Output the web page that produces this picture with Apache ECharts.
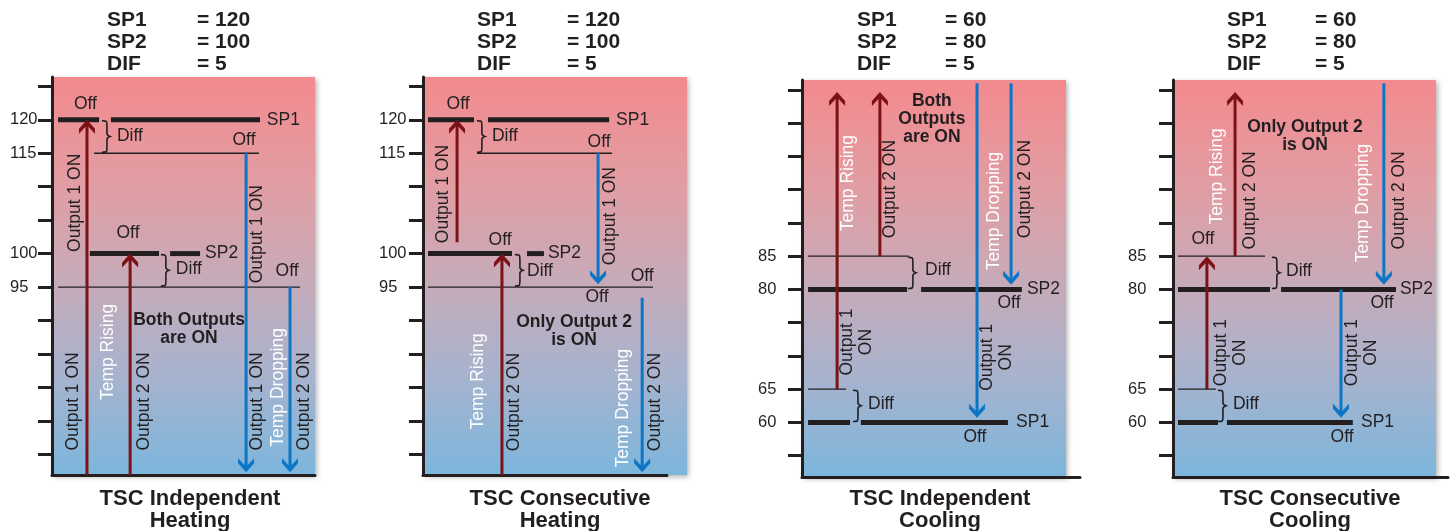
<!DOCTYPE html>
<html><head><meta charset="utf-8">
<script src="https://cdn.jsdelivr.net/npm/echarts@6/dist/echarts.min.js"></script>
<style>html,body{margin:0;padding:0;background:#fff}#c{width:1455px;height:531px}</style>
</head><body><div id="c"></div><script>
// ---------- data ----------
const panelNames = ['TSC Independent\nHeating','TSC Consecutive\nHeating','TSC Independent\nCooling','TSC Consecutive\nCooling'];
const paramNames = ['SP1','SP2','DIF'];
const paramValues = [[120,100,5],[120,100,5],[60,80,5],[60,80,5]];
const yRanges = [[66.9,126.4],[66.9,126.4],[51.8,111.5],[51.8,111.5]];
const heatTicks = [70,75,80,85,90,95,100,105,110,115,120,125];
const coolTicks = [55,60,65,70,75,80,85,90,95,100,105,110];
const heatTickLabels = [95,100,115,120];
const coolTickLabels = [60,65,80,85];
const tickValues = [heatTicks, heatTicks, coolTicks, coolTicks];
const tickLabels = [heatTickLabels, heatTickLabels, coolTickLabels, coolTickLabels];

// setpoint bars: [x start %, x end %, value]
const thick1 = [[2.3,17.9,120],[22.4,79.1,120],[14.4,40.7,100],[44.9,56.3,100]];
const thick2 = [[1.9,19.3,120],[24.6,70.5,120],[1.9,33.7,100],[39.4,45.8,100]];
const thick3 = [[2.3,39.8,80],[45.1,83.3,80],[2.3,18.2,60],[22.3,78,60]];
const thick4 = [[1.9,36.9,80],[41.1,84.8,80],[1.9,17.1,60],[20.5,68.4,60]];
// differential lines: [x start %, x end %, value]
const thin1 = [[16,78.7,115],[2.3,94.3,95]];
const thin2 = [[20.5,71.6,115],[1.9,87.1,95]];
const thin3 = [[2.3,40.5,85],[2.3,16.7,65]];
const thin4 = [[1.9,35,85],[1.9,16.3,65]];
// temperature rising arrows: [x %, from, to]
const rise1 = [[13.3,66.9,120],[29.7,66.9,100]];
const rise2 = [[12.9,101.7,120],[29.9,66.9,100]];
const rise3 = [[13.3,65,109.7],[29.5,85,109.7]];
const rise4 = [[12.9,65,85],[23.6,85,109.7]];
// temperature dropping arrows: [x %, from, to]
const drop1 = [[73.8,115,67.3],[90.5,95,67.3]];
const drop2 = [[66.3,115,95.4],[83,93.4,67.3]];
const drop3 = [[66.3,111,60.7],[79.2,111,80.7]];
const drop4 = [[80.2,111,80.7],[63.9,80,60.7]];
// diff braces: [x %, top, bottom]
const diff1 = [[20.9,120,115],[43.3,100,95]];
const diff2 = [[22.3,120,115],[36.7,100,95]];
const diff3 = [[42,85,80],[21.2,65,60]];
const diff4 = [[39.5,85,80],[19,65,60]];
// annotations: [x %, value, text, kind, rotation]
const text1 = [
 [12.7,122.4,'Off','n',0],[81.7,120,'SP1','l',0],[24.7,117.6,'Diff','l',0],[73,117,'Off','n',0],
 [8.9,107.6,'Output 1 ON','n',90],[28.9,103.1,'Off','n',0],[58.2,100,'SP2','l',0],
 [47.1,97.7,'Diff','l',0],[89.4,97.4,'Off','n',0],[52.1,88.7,'Both Outputs\nare ON','b',0],
 [21.5,85.3,'Temp Rising','w',90],[8.2,77.9,'Output 1 ON','n',90],[35.2,77.9,'Output 2 ON','n',90],
 [77.9,102.9,'Output 1 ON','n',90],[77.9,77.9,'Output 1 ON','n',90],
 [86.1,80,'Temp Dropping','w',90],[96,77.9,'Output 2 ON','n',90]
];
const text2 = [
 [13.3,122.4,'Off','n',0],[73.1,120,'SP1','l',0],[26.1,117.6,'Diff','l',0],[66.7,116.6,'Off','n',0],
 [7.8,108.9,'Output 1 ON','n',90],[71,105.6,'Output 1 ON','n',90],[29.2,102,'Off','n',0],
 [47.3,100,'SP2','l',0],[39.4,97.4,'Diff','l',0],[65.9,93.5,'Off','n',0],[83,96.6,'Off','n',0],
 [57.2,88.4,'Only Output 2\nis ON','b',0],[21,80.9,'Temp Rising','w',90],[34.7,77.8,'Output 2 ON','n',90],
 [75.9,76.9,'Temp Dropping','w',90],[88.1,77.8,'Output 2 ON','n',90]
];
const text3 = [
 [17.4,96,'Temp Rising','w',90],[33.5,95.1,'Output 2 ON','n',90],[49.2,105.6,'Both\nOutputs\nare ON','b',0],
 [72.9,91.8,'Temp Dropping','w',90],[84.7,95.1,'Output 2 ON','n',90],[46.6,82.9,'Diff','l',0],
 [85.2,80,'SP2','l',0],[78.4,77.9,'Off','n',0],[20.8,72.1,'Output 1\nON','n',90],
 [73.9,69.8,'Output 1\nON','n',90],[25,62.8,'Diff','l',0],[81.1,60,'SP1','l',0],[65.5,57.8,'Off','n',0]
];
const text4 = [
 [11.4,87.5,'Off','n',0],[16.9,97,'Temp Rising','w',90],[29.5,93.4,'Output 2 ON','n',90],
 [50.2,103,'Only Output 2\nis ON','b',0],[72.4,93,'Temp Dropping','w',90],[86.1,93.4,'Output 2 ON','n',90],
 [43,82.8,'Diff','l',0],[86.3,80,'SP2','l',0],[79.5,78,'Off','n',0],[22.1,70.5,'Output 1\nON','n',90],
 [71.9,70.5,'Output 1\nON','n',90],[22.8,62.8,'Diff','l',0],[71.5,60,'SP1','l',0],[64.3,57.8,'Off','n',0]
];

const panels = [
 {thick:thick1, thin:thin1, rise:rise1, drop:drop1, diff:diff1, text:text1},
 {thick:thick2, thin:thin2, rise:rise2, drop:drop2, diff:diff2, text:text2},
 {thick:thick3, thin:thin3, rise:rise3, drop:drop3, diff:diff3, text:text3},
 {thick:thick4, thin:thin4, rise:rise4, drop:drop4, diff:diff4, text:text4}
];

// ---------- layout & style ----------
const FONT = '"Liberation Sans", Arial, Helvetica, sans-serif';
const DARK = '#231f20', RED = '#7c1216', BLUE = '#0c76c6';
const grids = [
 {left:52, top:77, width:263, height:398},
 {left:423, top:77, width:244, height:398},
 {left:802, top:80, width:278, height:397},
 {left:1173, top:80, width:275, height:397}
];
const xMax = [100, 92.4, 105.3, 104.6];
const labelMargin = [42, 44, 44, 45];
const topLeftX = [107, 477, 857, 1227];
const topValX = [197, 567, 945, 1315];
const bottomX = [190, 560, 940, 1310];

function segSeries(i, arr, width, z) {
  return {type:'custom', xAxisIndex:i, yAxisIndex:i, z, silent:true,
    data: arr.map(d => [d[0], d[2]]),
    renderItem(params, api) {
      const d = arr[params.dataIndex];
      const a = api.coord([d[0], d[2]]), b = api.coord([d[1], d[2]]);
      return {type:'line', shape:{x1:a[0], y1:a[1], x2:b[0], y2:b[1]},
        style:{stroke:DARK, lineWidth:width}};
    }};
}
function arrowSeries(i, arr, color) {
  return {type:'custom', xAxisIndex:i, yAxisIndex:i, z:4, silent:true,
    data: arr.map(d => [d[0], d[2]]),
    renderItem(params, api) {
      const d = arr[params.dataIndex];
      const a = api.coord([d[0], d[1]]), b = api.coord([d[0], d[2]]);
      const s = b[1] < a[1] ? 1 : -1;
      const tx = b[0], ty = b[1], hw = 8;
      return {type:'group', children:[
        {type:'line', shape:{x1:a[0], y1:a[1], x2:tx, y2:ty + s*5},
          style:{stroke:color, lineWidth:3}},
        {type:'polygon', shape:{points:[[tx,ty],[tx+hw,ty+s*9],[tx+hw,ty+s*14],[tx,ty+s*5.5],[tx-hw,ty+s*14],[tx-hw,ty+s*9]]},
          style:{fill:color}}
      ]};
    }};
}
function braceSeries(i, arr) {
  return {type:'custom', xAxisIndex:i, yAxisIndex:i, z:3, silent:true,
    data: arr.map(d => [d[0], d[1]]),
    renderItem(params, api) {
      const d = arr[params.dataIndex];
      const t = api.coord([d[0], d[1]]), b = api.coord([d[0], d[2]]);
      const x1 = t[0], x0 = x1 - 5, x2 = x1 + 3, yt = t[1] + 1, yb = b[1] - 1, ym = (yt + yb) / 2;
      const p = `M${x0},${yt} C${x1},${yt} ${x1},${yt} ${x1},${yt+5} L${x1},${ym-3} C${x1},${ym-1} ${x2},${ym} ${x2},${ym} C${x2},${ym} ${x1},${ym+1} ${x1},${ym+3} L${x1},${yb-5} C${x1},${yb} ${x1},${yb} ${x0},${yb}`;
      return {type:'path', shape:{pathData:p}, style:{stroke:DARK, lineWidth:1.6, fill:null}};
    }};
}
function textSeries(i, arr) {
  return {type:'custom', xAxisIndex:i, yAxisIndex:i, z:5, silent:true,
    data: arr.map(d => [d[0], d[1]]),
    renderItem(params, api) {
      const d = arr[params.dataIndex];
      const p = api.coord([d[0], d[1]]);
      const k = d[3];
      return {type:'text', x:p[0], y:p[1], rotation:d[4]*Math.PI/180,
        style:{text:d[2], fill: k === 'w' ? '#ffffff' : DARK, fontSize:17.5, fontFamily:FONT,
          fontWeight: k === 'b' ? 'bold' : 'normal', align: k === 'l' ? 'left' : 'center',
          verticalAlign:'middle', lineHeight: k === 'b' ? 18 : 19}};
    }};
}
function bgSeries(i) {
  const r = yRanges[i];
  return {type:'custom', xAxisIndex:i, yAxisIndex:i, z:-1, silent:true,
    data:[[0, r[0]]],
    renderItem(params, api) {
      const a = api.coord([0, r[1]]), b = api.coord([100, r[0]]);
      return {type:'rect', shape:{x:a[0], y:a[1], width:b[0]-a[0], height:b[1]-a[1]},
        style:{fill:new echarts.graphic.LinearGradient(0,0,0,1,[
          {offset:0, color:'#f38a8e'},{offset:0.28, color:'#e09ea4'},{offset:0.5, color:'#c8aab8'},
          {offset:0.75, color:'#a7b3ce'},{offset:1, color:'#7cb6dc'}]),
          shadowBlur:5, shadowColor:'rgba(0,0,0,0.3)', shadowOffsetX:2, shadowOffsetY:2}};
    }};
}

const series = [];
panels.forEach((p, i) => {
  series.push(bgSeries(i));
  series.push(segSeries(i, p.thin, 1.3, 3));
  series.push(segSeries(i, p.thick, 5, 3));
  series.push(braceSeries(i, p.diff));
  series.push(arrowSeries(i, p.rise, RED));
  series.push(arrowSeries(i, p.drop, BLUE));
  series.push(textSeries(i, p.text));
});

const graphic = [];
for (let i = 0; i < 4; i++) {
  graphic.push({type:'text', x:topLeftX[i], y:9, style:{text:paramNames.join('\n'), fill:DARK,
    font:'bold 21px ' + FONT, lineHeight:22, textVerticalAlign:'top', verticalAlign:'top'}});
  graphic.push({type:'text', x:topValX[i], y:9, style:{text:paramValues[i].map(v => '= ' + v).join('\n'), fill:DARK,
    font:'bold 21px ' + FONT, lineHeight:22, textVerticalAlign:'top', verticalAlign:'top'}});
  graphic.push({type:'text', x:bottomX[i], y:509.5, style:{text:panelNames[i], fill:DARK,
    font:'bold 22px ' + FONT, lineHeight:22, textAlign:'center', align:'center',
    textVerticalAlign:'middle', verticalAlign:'middle'}});
}

const option = {
  animation:false,
  backgroundColor:'#ffffff',
  grid: grids.map(g => Object.assign({outerBoundsMode:'none', containLabel:false}, g)),
  xAxis: grids.map((g, i) => ({gridIndex:i, type:'value', min:0, max:xMax[i],
    axisLine:{show:true, onZero:false, lineStyle:{color:DARK, width:3}},
    axisTick:{show:false}, axisLabel:{show:false}, splitLine:{show:false}})),
  yAxis: grids.map((g, i) => ({gridIndex:i, type:'value', min:yRanges[i][0], max:yRanges[i][1],
    axisLine:{show:true, onZero:false, lineStyle:{color:DARK, width:3}},
    axisTick:{show:true, length:14, customValues:tickValues[i], lineStyle:{color:DARK, width:3}},
    axisLabel:{show:true, customValues:tickLabels[i], color:DARK, fontSize:16.5, fontFamily:FONT,
      margin:labelMargin[i], align:'left'},
    splitLine:{show:false}})),
  series,
  graphic
};
const chart = echarts.init(document.getElementById('c'));
chart.setOption(option);
</script></body></html>
